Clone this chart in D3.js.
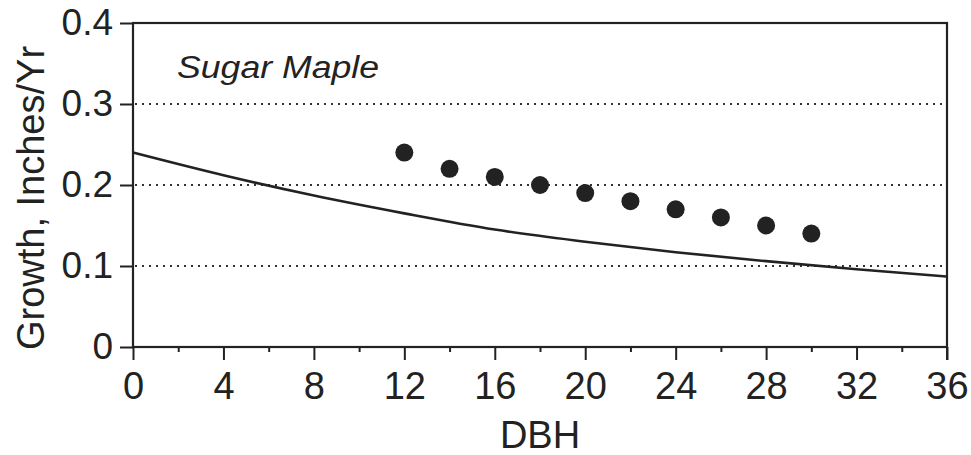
<!DOCTYPE html>
<html>
<head>
<meta charset="utf-8">
<script src="https://cdn.jsdelivr.net/npm/d3@7"></script>
<style>
  html, body { margin: 0; padding: 0; background: #fff; }
  svg { display: block; }
  text { font-family: "Liberation Sans", Arial, Helvetica, sans-serif; fill: #222; }
</style>
</head>
<body>
<svg id="chart" width="971" height="455"></svg>
<script>
// Observed data (dots)
const dotDBH = [12, 14, 16, 18, 20, 22, 24, 26, 28, 30];
const dotGrowth = [0.24, 0.22, 0.21, 0.20, 0.19, 0.18, 0.17, 0.16, 0.15, 0.14];
// Model curve
const curveDBH = [0, 4, 8, 12, 16, 20, 24, 28, 32, 36];
const curveGrowth = [0.240, 0.212, 0.187, 0.165, 0.145, 0.130, 0.117, 0.106, 0.096, 0.087];
// Axes
const xTicks = [0, 4, 8, 12, 16, 20, 24, 28, 32, 36];
const xMinorTicks = [2, 6, 10, 14, 18, 22, 26, 30, 34];
const yTicks = [0, 0.1, 0.2, 0.3, 0.4];
const yTickLabels = ["0", "0.1", "0.2", "0.3", "0.4"];
const gridValues = [0.1, 0.2, 0.3];
const speciesLabel = "Sugar Maple";
const xTitle = "DBH";
const yTitle = "Growth, Inches/Yr";

const svg = d3.select("#chart");
const L = 133, R = 947, T = 23, B = 347;
const x = d3.scaleLinear().domain([0, 36]).range([L, R]);
const y = d3.scaleLinear().domain([0, 0.4]).range([B, T]);
const ink = "#222";

// grid lines
svg.append("g").selectAll("line").data(gridValues).join("line")
  .attr("x1", L + 2).attr("x2", R - 2)
  .attr("y1", d => y(d)).attr("y2", d => y(d))
  .attr("stroke", "#333").attr("stroke-width", 2)
  .attr("stroke-dasharray", "2,5");

// x axis (bottom)
const xAxis = d3.axisBottom(x).tickValues(xTicks).tickSize(13).tickPadding(12).tickFormat(d3.format("d"));
const gx = svg.append("g").attr("transform", `translate(0,${B})`).call(xAxis);
gx.select(".domain").remove();
gx.selectAll(".tick line").attr("stroke", ink).attr("stroke-width", 2);
gx.selectAll(".tick text").attr("font-size", 38).attr("fill", ink)
  .style("font-family", '"Liberation Sans", Arial, sans-serif');
const xMinor = d3.axisBottom(x).tickValues(xMinorTicks).tickSize(5).tickFormat("");
const gxm = svg.append("g").attr("transform", `translate(0,${B})`).call(xMinor);
gxm.select(".domain").remove();
gxm.selectAll(".tick line").attr("stroke", ink).attr("stroke-width", 2);

// y axis (left)
const yAxis = d3.axisLeft(y).tickValues(yTicks).tickSize(13).tickPadding(7)
  .tickFormat((d, i) => yTickLabels[i]);
const gy = svg.append("g").attr("transform", `translate(${L},0)`).call(yAxis);
gy.select(".domain").remove();
gy.selectAll(".tick line").attr("stroke", ink).attr("stroke-width", 2);
gy.selectAll(".tick text").attr("font-size", 37).attr("fill", ink)
  .style("font-family", '"Liberation Sans", Arial, sans-serif');

// frame
svg.append("rect").attr("x", L).attr("y", T).attr("width", R - L).attr("height", B - T)
  .attr("fill", "none").attr("stroke", ink).attr("stroke-width", 2.2);
svg.append("line").attr("x1", R).attr("x2", R).attr("y1", B).attr("y2", B + 13)
  .attr("stroke", ink).attr("stroke-width", 2);

// curve
const line = d3.line().x(d => x(d[0])).y(d => y(d[1])).curve(d3.curveMonotoneX);
svg.append("path").datum(curveDBH.map((d, i) => [d, curveGrowth[i]]))
  .attr("d", line).attr("fill", "none").attr("stroke", ink).attr("stroke-width", 2.6);

// dots
svg.append("g").selectAll("circle").data(dotDBH).join("circle")
  .attr("cx", d => x(d)).attr("cy", (d, i) => y(dotGrowth[i])).attr("r", 9)
  .attr("fill", "#222");

// labels
svg.append("text").attr("x", 177).attr("y", 78).attr("font-size", 31)
  .attr("font-style", "italic")
  .attr("textLength", 202).attr("lengthAdjust", "spacingAndGlyphs")
  .text(speciesLabel);
svg.append("text").attr("x", (L + R) / 2).attr("y", 448).attr("text-anchor", "middle")
  .attr("font-size", 38).text(xTitle);
svg.append("text").attr("transform", "translate(44,198) rotate(-90)")
  .attr("text-anchor", "middle").attr("font-size", 38).text(yTitle);
</script>
</body>
</html>
